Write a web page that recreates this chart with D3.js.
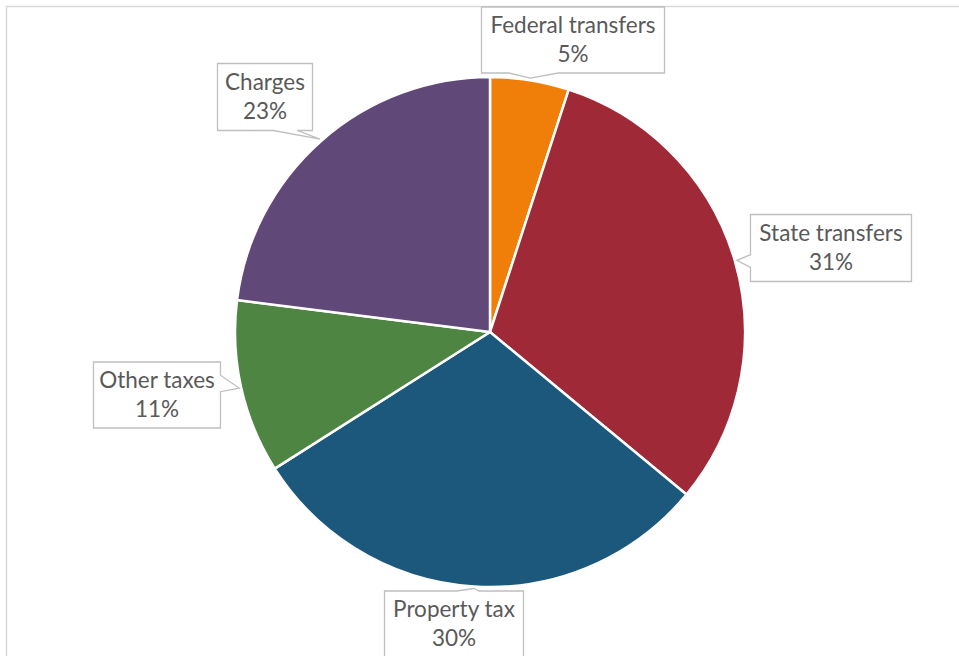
<!DOCTYPE html>
<html>
<head>
<meta charset="utf-8">
<script src="https://cdn.jsdelivr.net/npm/d3@7"></script>
<style>
  html, body { margin: 0; padding: 0; background: #fff; }
  svg { display: block; }
</style>
</head>
<body>
<svg id="chart" width="959" height="656"></svg>
<script>
// Revenue sources, share of total (%)
const categories = ["Federal transfers", "State transfers", "Property tax", "Other taxes", "Charges"];
const shares = [5, 31, 30, 11, 23];
const sliceColors = ["#F07F09", "#9F2936", "#1B587C", "#4E8542", "#604878"];

// Callout boxes: centre, which side the pointer leaves from, and where its base sits on that side
const callouts = {
  "Federal transfers": { cx: 573, cy: 40,  w: 183, h: 66, side: "bottom", b0: 0.15, b1: 0.42 },
  "State transfers":   { cx: 831, cy: 248, w: 161, h: 67, side: "left",   b0: 0.60, b1: 0.79 },
  "Property tax":      { cx: 454, cy: 624, w: 139, h: 66, side: "top",    b0: 0.52, b1: 0.68 },
  "Other taxes":       { cx: 157, cy: 395, w: 127, h: 66, side: "right",  b0: 0.20, b1: 0.45 },
  "Charges":           { cx: 265, cy: 97,  w: 95,  h: 67, side: "bottom", b0: 0.59, b1: 0.84 }
};

const W = 959, H = 656;
const cx = 490, cy = 332, radius = 255;
const svg = d3.select("#chart");

// chart-area frame (runs off the right and bottom edges)
svg.append("path")
  .attr("d", `M6.5,${H + 2} V6.5 H${W + 2}`)
  .attr("fill", "none")
  .attr("stroke", "#d9d9d9")
  .attr("stroke-width", 1.5);

const data = categories.map((c, i) => ({ name: c, value: shares[i], color: sliceColors[i] }));

const pie = d3.pie().value(d => d.value).sort(null);
const arcs = pie(data);
const arc = d3.arc().innerRadius(0).outerRadius(radius);

const g = svg.append("g").attr("transform", `translate(${cx},${cy})`);
g.selectAll("path.slice")
  .data(arcs)
  .join("path")
  .attr("class", "slice")
  .attr("d", arc)
  .attr("fill", d => d.data.color)
  .attr("stroke", "#fff")
  .attr("stroke-width", 2.5)
  .attr("stroke-linejoin", "round");

// callout labels
const fontFamily = "Lato, 'Open Sans', sans-serif";
const labels = svg.append("g");
arcs.forEach(a => {
  const c = callouts[a.data.name];
  const mid = (a.startAngle + a.endAngle) / 2;
  const tip = [cx + (radius + 2) * Math.sin(mid), cy - (radius + 2) * Math.cos(mid)];
  const x0 = c.cx - c.w / 2, x1 = c.cx + c.w / 2;
  const y0 = c.cy - c.h / 2, y1 = c.cy + c.h / 2;
  let pts;
  if (c.side === "bottom") {
    const p0 = x0 + c.w * c.b0, p1 = x0 + c.w * c.b1;
    pts = [[x0, y0], [x1, y0], [x1, y1], [p1, y1], tip, [p0, y1], [x0, y1]];
  } else if (c.side === "top") {
    const p0 = x0 + c.w * c.b0, p1 = x0 + c.w * c.b1;
    pts = [[x0, y0], [p0, y0], tip, [p1, y0], [x1, y0], [x1, y1], [x0, y1]];
  } else if (c.side === "left") {
    const p0 = y0 + c.h * c.b0, p1 = y0 + c.h * c.b1;
    pts = [[x0, y0], [x1, y0], [x1, y1], [x0, y1], [x0, p1], tip, [x0, p0]];
  } else {
    const p0 = y0 + c.h * c.b0, p1 = y0 + c.h * c.b1;
    pts = [[x0, y0], [x1, y0], [x1, p0], tip, [x1, p1], [x1, y1], [x0, y1]];
  }
  labels.append("path")
    .attr("d", d3.line()(pts) + "Z")
    .attr("fill", "#fff")
    .attr("stroke", "#bfbfbf")
    .attr("stroke-width", 1.3);

  const t = labels.append("text")
    .attr("x", c.cx)
    .attr("text-anchor", "middle")
    .attr("font-family", fontFamily)
    .attr("font-size", 22.5)
    .attr("fill", "#595959");
  t.append("tspan").attr("x", c.cx).attr("y", c.cy - 14.5).attr("dy", "0.35em").text(a.data.name);
  t.append("tspan").attr("x", c.cx).attr("y", c.cy + 14.5).attr("dy", "0.35em").text(a.data.value + "%");
});
</script>
</body>
</html>
